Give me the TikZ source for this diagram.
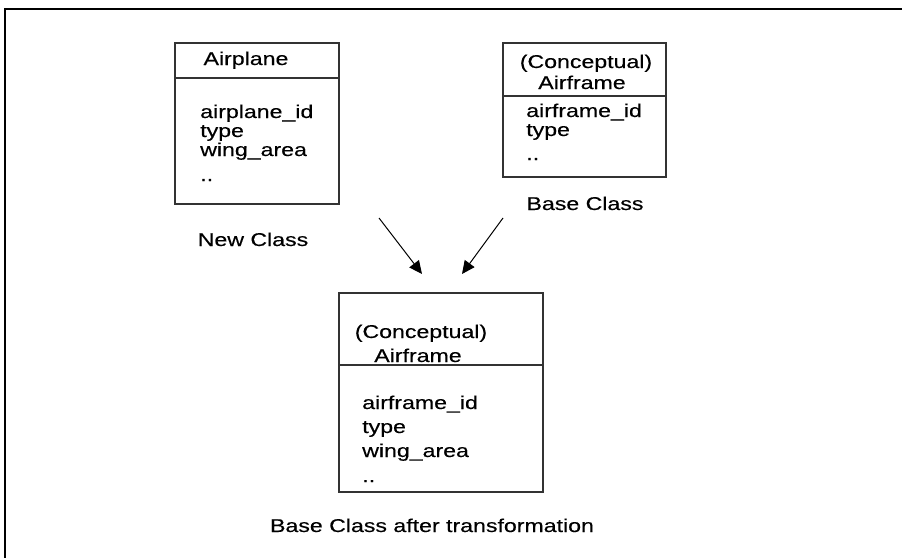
\documentclass[tikz,border=0pt]{standalone}
\usepackage{fontspec}
\setmainfont{Liberation Sans}
\newfontfamily\heavysans[FakeBold=0.3]{Liberation Sans}
\usetikzlibrary{arrows.meta}
\begin{document}
\begin{tikzpicture}[x=1pt,y=-1pt,
  frame/.style={line width=2pt,black},
  box/.style={draw=black!80,line width=1.1pt,rectangle,inner sep=0pt},
  divider/.style={draw=black!80,line width=1.1pt},
  txt/.style={font=\heavysans\fontsize{18.5}{21}\selectfont,inner sep=0pt,xscale=1.25},
  conn/.style={draw=black,line width=1pt,-{Triangle[length=13pt,width=12pt]}}]
\useasboundingbox (0,0) rectangle (902,557);
% outer frame
\draw[frame] (5,570) -- (5,9) -- (910,9);
% boxes
\node[box,minimum width=164pt,minimum height=161pt] (apl) at (257,123.5) {};
\node[box,minimum width=163pt,minimum height=134pt] (base) at (584.5,110) {};
\node[box,minimum width=204pt,minimum height=199pt] (res) at (441,392.5) {};
\draw[divider] (apl.west |- 0,78) -- (apl.east |- 0,78);
\draw[divider] (base.west |- 0,96) -- (base.east |- 0,96);
\draw[divider] (res.west |- 0,365) -- (res.east |- 0,365);
% Airplane box texts
\node[txt,anchor=base] (t1) at (246,65) {Airplane};
\node[txt,anchor=base west] (t2) at (200,118) {airplane\_id};
\node[txt,anchor=base west] (t3) at (200,137) {type};
\node[txt,anchor=base west] (t4) at (200,156) {wing\_area};
\node[txt,anchor=base west] (t5) at (200,181) {..};
% Base box texts
\node[txt,anchor=base] (b1) at (586,68) {(Conceptual)};
\node[txt,anchor=base] (b2) at (582,89) {Airframe};
\node[txt,anchor=base west] (b3) at (526,117) {airframe\_id};
\node[txt,anchor=base west] (b4) at (526,136) {type};
\node[txt,anchor=base west] (b5) at (526,160) {..};
% Result box texts
\node[txt,anchor=base] (r1) at (421,338) {(Conceptual)};
\node[txt,anchor=base] (r2) at (418,362) {Airframe};
\node[txt,anchor=base west] (r3) at (362,409) {airframe\_id};
\node[txt,anchor=base west] (r4) at (362,433) {type};
\node[txt,anchor=base west] (r5) at (362,457) {wing\_area};
\node[txt,anchor=base west] (r6) at (362,482) {..};
% captions
\node[txt,anchor=base] (c1) at (253,246) {New Class};
\node[txt,anchor=base] (c2) at (585,210) {Base Class};
\node[txt,anchor=base] (c3) at (432,532) {Base Class after transformation};
% arrows
\coordinate (a1s) at (379,218);
\coordinate (a1e) at (422,274);
\coordinate (a2s) at (503,218);
\coordinate (a2e) at (462,274);
\draw[conn] (a1s) -- (a1e);
\draw[conn] (a2s) -- (a2e);
\end{tikzpicture}
\end{document}
